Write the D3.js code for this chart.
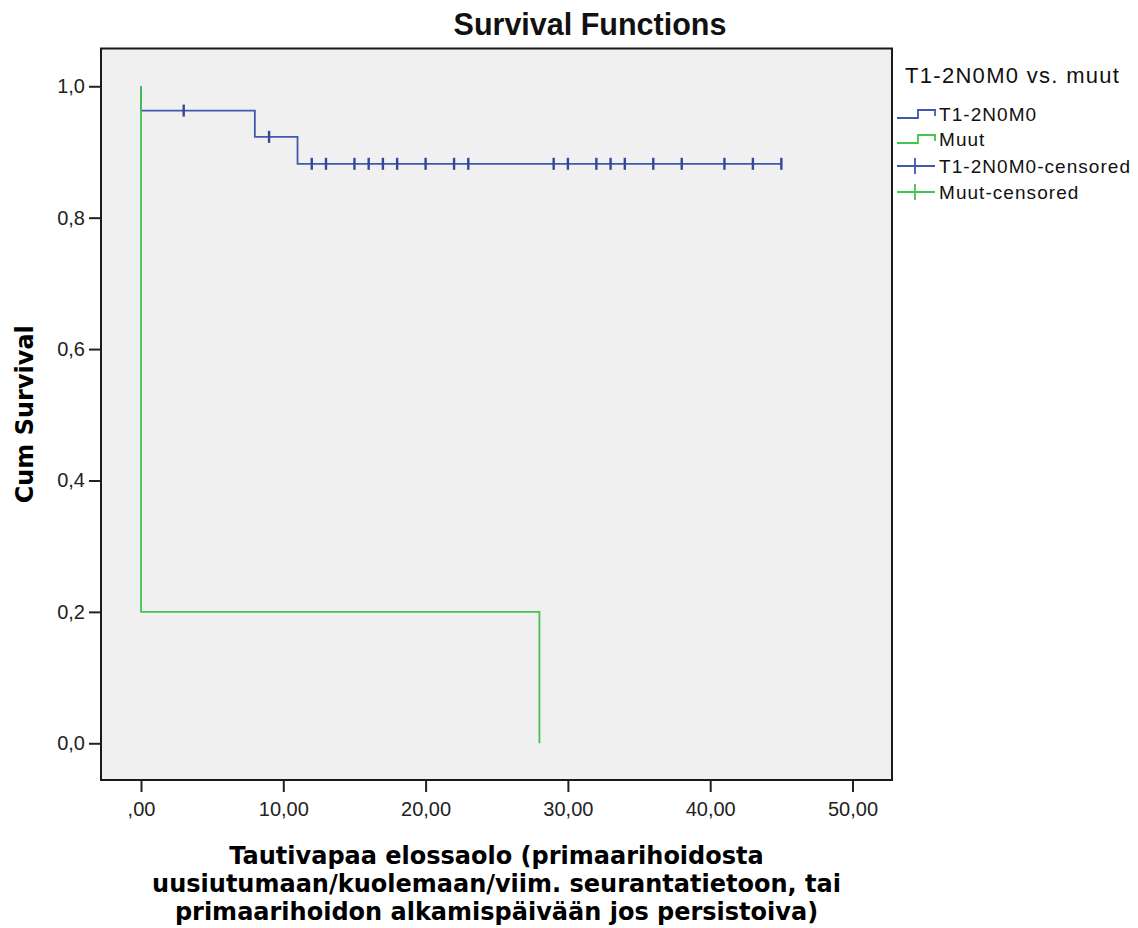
<!DOCTYPE html>
<html>
<head>
<meta charset="utf-8">
<script src="https://cdn.jsdelivr.net/npm/d3@7"></script>
<style>
  html, body { margin: 0; padding: 0; background: #ffffff; }
  svg { display: block; }
</style>
</head>
<body>
<svg id="chart" width="1138" height="928"></svg>
<script>
// ---------- data ----------
const chartTitle = "Survival Functions";
const legendTitle = "T1-2N0M0 vs. muut";
const groupNames = ["T1-2N0M0", "Muut"];
// Kaplan-Meier step points (time, cumulative survival)
const blueStepTimes = [0, 0, 8, 8, 11, 11, 45];
const blueStepSurv  = [1.0, 0.963, 0.963, 0.923, 0.923, 0.882, 0.882];
const greenStepTimes = [0, 0, 28, 28];
const greenStepSurv  = [1.0, 0.2, 0.2, 0.0];
// censored observation times
const blueCensorTimes = [3, 9, 12, 13, 15, 16, 17, 18, 20, 22, 23, 29, 30, 32, 33, 34, 36, 38, 41, 43, 45];
const greenCensorTimes = [];
// axes
const xTickValues = [0, 10, 20, 30, 40, 50];
const xTickLabels = [",00", "10,00", "20,00", "30,00", "40,00", "50,00"];
const yTickValues = [0, 0.2, 0.4, 0.6, 0.8, 1.0];
const yTickLabels = ["0,0", "0,2", "0,4", "0,6", "0,8", "1,0"];
const xAxisLines = [
  "Tautivapaa elossaolo (primaarihoidosta",
  "uusiutumaan/kuolemaan/viim. seurantatietoon, tai",
  "primaarihoidon alkamispäivään jos persistoiva)"
];
const yAxisLabel = "Cum Survival";

// ---------- layout ----------
const plot = { left: 101, right: 892, top: 48.5, bottom: 780 };
const blue = "#4058b0", green = "#44c252";

const svg = d3.select("#chart");

const x = d3.scaleLinear().domain([-2.811, 52.776]).range([plot.left, plot.right]);
const y = d3.scaleLinear().domain([-0.0559, 1.0575]).range([plot.bottom, plot.top]);

// plot background
svg.append("rect")
  .attr("x", plot.left).attr("y", plot.top)
  .attr("width", plot.right - plot.left).attr("height", plot.bottom - plot.top)
  .attr("fill", "#f0f0f0").attr("stroke", "none");

// axes
const xAxis = d3.axisBottom(x).tickValues(xTickValues)
  .tickFormat((d, i) => xTickLabels[i]).tickSizeInner(12).tickSizeOuter(0).tickPadding(6);
const yAxis = d3.axisLeft(y).tickValues(yTickValues)
  .tickFormat((d, i) => yTickLabels[i]).tickSizeInner(12).tickSizeOuter(0).tickPadding(4);

const gx = svg.append("g").attr("transform", `translate(0,${plot.bottom})`).call(xAxis);
const gy = svg.append("g").attr("transform", `translate(${plot.left},0)`).call(yAxis);
[gx, gy].forEach(g => {
  g.select(".domain").remove();
  g.selectAll(".tick line").attr("stroke", "#222").attr("stroke-width", 2);
  g.selectAll(".tick text").attr("fill", "#222")
    .style("font-family", "'Liberation Sans', Arial, sans-serif").style("font-size", "20px");
});
gx.selectAll(".tick text").attr("dy", "0.9em");

// plot frame
svg.append("rect")
  .attr("x", plot.left).attr("y", plot.top)
  .attr("width", plot.right - plot.left).attr("height", plot.bottom - plot.top)
  .attr("fill", "none").attr("stroke", "#1a1a1a").attr("stroke-width", 2);

// survival lines
const line = d3.line().x(d => x(d[0])).y(d => y(d[1]));
const blueData = blueStepTimes.map((t, i) => [t, blueStepSurv[i]]);
const greenData = greenStepTimes.map((t, i) => [t, greenStepSurv[i]]);

svg.append("path").datum(blueData).attr("d", line)
  .attr("fill", "none").attr("stroke", blue).attr("stroke-width", 1.8);

// survival value at time t from step data (value after last drop at or before t)
function survAt(times, surv, t) {
  let v = surv[0];
  for (let i = 0; i < times.length; i++) if (times[i] <= t) v = surv[i];
  return v;
}
const tickH = 6;
svg.append("g").selectAll("line").data(blueCensorTimes).join("line")
  .attr("x1", d => x(d)).attr("x2", d => x(d))
  .attr("y1", d => y(survAt(blueStepTimes, blueStepSurv, d)) - tickH)
  .attr("y2", d => y(survAt(blueStepTimes, blueStepSurv, d)) + tickH)
  .attr("stroke", "#34479a").attr("stroke-width", 2.4);
svg.append("g").selectAll("line").data(greenCensorTimes).join("line")
  .attr("x1", d => x(d)).attr("x2", d => x(d))
  .attr("y1", d => y(survAt(greenStepTimes, greenStepSurv, d)) - tickH)
  .attr("y2", d => y(survAt(greenStepTimes, greenStepSurv, d)) + tickH)
  .attr("stroke", green).attr("stroke-width", 2.4);

svg.append("path").datum(greenData).attr("d", line)
  .attr("fill", "none").attr("stroke", green).attr("stroke-width", 1.8);

// title
svg.append("text").attr("x", 590).attr("y", 35).attr("text-anchor", "middle")
  .style("font-family", "'Liberation Sans', Arial, sans-serif").style("font-weight", "bold")
  .style("font-size", "30.5px").attr("fill", "#111").text(chartTitle);

// y axis label
svg.append("text").attr("transform", `translate(33,${(plot.top + plot.bottom) / 2}) rotate(-90)`)
  .attr("text-anchor", "middle")
  .style("font-family", "'DejaVu Sans', sans-serif").style("font-weight", "bold")
  .style("font-size", "24px").attr("fill", "#000").text(yAxisLabel);

// x axis label
const xl = svg.append("text").attr("text-anchor", "middle")
  .style("font-family", "'DejaVu Sans', sans-serif").style("font-weight", "bold")
  .style("font-size", "24px").attr("fill", "#000");
xAxisLines.forEach((s, i) => {
  xl.append("tspan").attr("x", (plot.left + plot.right) / 2).attr("y", 864 + i * 28).text(s);
});

// legend
const lg = svg.append("g");
lg.append("text").attr("x", 905).attr("y", 83)
  .style("font-family", "'Liberation Sans', Arial, sans-serif").style("font-size", "22px")
  .style("letter-spacing", "1.3px").attr("fill", "#111").text(legendTitle);

const legendItems = [
  { label: groupNames[0], color: blue, type: "step", cy: 114 },
  { label: groupNames[1], color: green, type: "step", cy: 139 },
  { label: groupNames[0] + "-censored", color: blue, type: "cens", cy: 166 },
  { label: groupNames[1] + "-censored", color: green, type: "cens", cy: 192 }
];
legendItems.forEach(it => {
  if (it.type === "step") {
    const pts = [[897, it.cy + 4], [918, it.cy + 4], [918, it.cy - 4], [935, it.cy - 4], [935, it.cy + 2]];
    lg.append("path").attr("d", d3.line()(pts)).attr("fill", "none")
      .attr("stroke", it.color).attr("stroke-width", 1.8);
  } else {
    lg.append("line").attr("x1", 897).attr("x2", 935).attr("y1", it.cy).attr("y2", it.cy)
      .attr("stroke", it.color).attr("stroke-width", 1.8);
    lg.append("line").attr("x1", 915).attr("x2", 915).attr("y1", it.cy - 8).attr("y2", it.cy + 8)
      .attr("stroke", it.color).attr("stroke-width", 1.8);
  }
  lg.append("text").attr("x", 939).attr("y", it.cy + 7)
    .style("font-family", "'Liberation Sans', Arial, sans-serif").style("font-size", "19px")
    .style("letter-spacing", "1.05px").attr("fill", "#111").text(it.label);
});
</script>
</body>
</html>
